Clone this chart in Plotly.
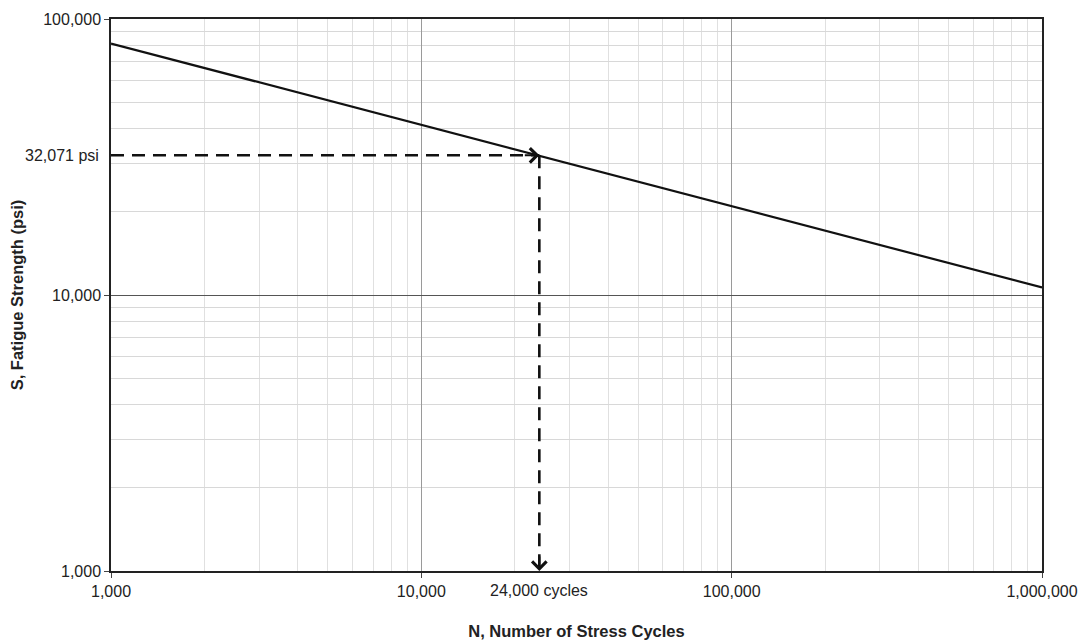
import math
import plotly.graph_objects as go

# Data
cycles = [1000, 1000000]
strength = [81500, 10650]
target_cycles = 24000
target_strength = 32071
x_tickvals = [1000, 10000, 100000, 1000000]
x_ticktext = ["1,000", "10,000", "100,000", "1,000,000"]
y_tickvals = [1000, 10000, 100000]
y_ticktext = ["1,000", "10,000", "100,000"]
x_min, x_max = 1000, 1000000
y_min, y_max = 1000, 100000

FONT = "Liberation Sans, Arial, sans-serif"
TICK_SIZE = 16
TITLE_SIZE = 16.5

fig = go.Figure()

# S-N line
fig.add_trace(go.Scatter(x=cycles, y=strength, mode="lines",
                         line=dict(color="#111", width=2.2), showlegend=False, hoverinfo="skip"))

# Dashed guide lines
fig.add_trace(go.Scatter(x=[x_min, target_cycles], y=[target_strength, target_strength], mode="lines",
                         line=dict(color="#111", width=2.6, dash="13px,8px"), showlegend=False,
                         hoverinfo="skip", cliponaxis=False))
fig.add_trace(go.Scatter(x=[target_cycles, target_cycles], y=[target_strength, y_min], mode="lines",
                         line=dict(color="#111", width=2.6, dash="13px,8px"), showlegend=False,
                         hoverinfo="skip", cliponaxis=False))

annotations = [
    # arrow heads
    dict(x=math.log10(target_cycles), y=math.log10(target_strength), xref="x", yref="y",
         ax=-16, ay=0, showarrow=True, arrowhead=4, arrowsize=1.4, arrowwidth=2,
         arrowcolor="#111", text=""),
    dict(x=math.log10(target_cycles), y=math.log10(y_min), xref="x", yref="y",
         ax=0, ay=-16, showarrow=True, arrowhead=4, arrowsize=1.4, arrowwidth=2,
         arrowcolor="#111", text=""),
    # labels
    dict(x=0, xref="paper", xanchor="right", xshift=-10, y=math.log10(target_strength), yref="y",
         text=f"{target_strength:,} psi", showarrow=False,
         font=dict(family=FONT, size=TICK_SIZE, color="#222")),
    dict(x=math.log10(target_cycles), xref="x", y=0, yref="paper", yanchor="top", yshift=-9,
         text=f"{target_cycles:,} cycles", showarrow=False,
         font=dict(family=FONT, size=TICK_SIZE, color="#222")),
]

fig.update_layout(
    width=1083, height=640,
    margin=dict(l=111, r=41, t=19, b=69),
    paper_bgcolor="white", plot_bgcolor="white",
    font=dict(family=FONT, size=TICK_SIZE, color="#222"),
    annotations=annotations,
    xaxis=dict(
        type="log", range=[math.log10(x_min), math.log10(x_max)],
        tickvals=x_tickvals, ticktext=x_ticktext, automargin=False,
        ticks="outside", ticklen=5, tickcolor="#444",
        showline=True, linecolor="#222", linewidth=1.5, mirror=True,
        showgrid=True, gridcolor="#9a9a9a", gridwidth=1,
        minor=dict(dtick="D1", showgrid=True, gridcolor="#e0e0e0", gridwidth=1, ticks=""),
        zeroline=False,
        title=dict(text="<b>N, Number of Stress Cycles</b>", standoff=26,
                   font=dict(family=FONT, size=TITLE_SIZE, color="#222")),
        tickfont=dict(family=FONT, size=TICK_SIZE, color="#222"),
    ),
    yaxis=dict(
        type="log", range=[math.log10(y_min), math.log10(y_max)],
        tickvals=y_tickvals, ticktext=y_ticktext, automargin=False,
        ticks="outside", ticklen=5, tickcolor="#444",
        showline=True, linecolor="#222", linewidth=1.5, mirror=True,
        showgrid=True, gridcolor="#555", gridwidth=1.2,
        minor=dict(dtick="D1", showgrid=True, gridcolor="#d8d8d8", gridwidth=1, ticks=""),
        zeroline=False,
        title=dict(text="<b>S, Fatigue Strength (psi)</b>", standoff=15,
                   font=dict(family=FONT, size=TITLE_SIZE, color="#222")),
        tickfont=dict(family=FONT, size=TICK_SIZE, color="#222"),
    ),
)

fig.write_html("out.html",
               config={"displayModeBar": False},
               post_script="document.body.style.margin='0';document.body.style.overflow='hidden';")
